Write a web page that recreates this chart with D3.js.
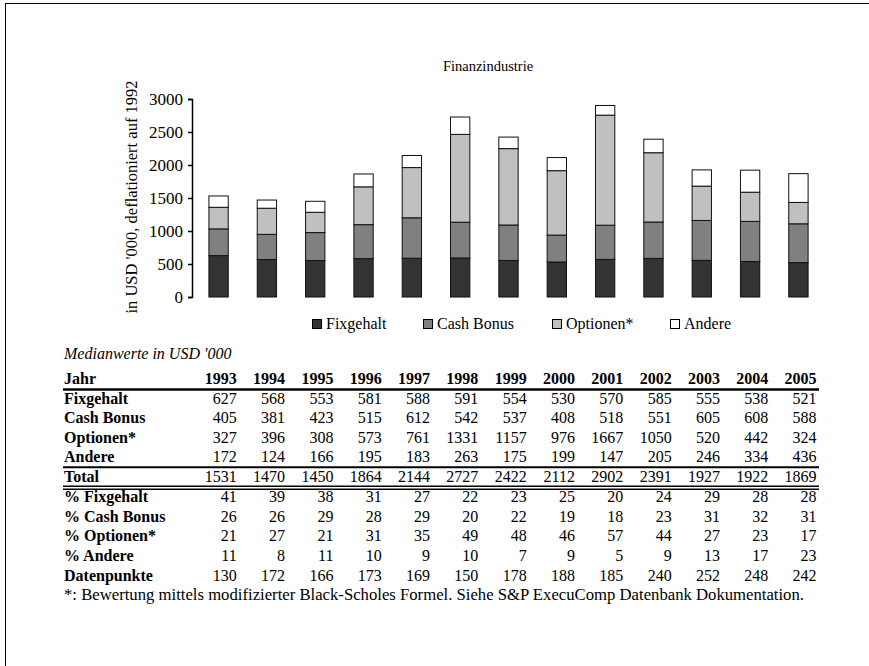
<!DOCTYPE html>
<html>
<head>
<meta charset="utf-8">
<script src="https://cdn.jsdelivr.net/npm/d3@7"></script>
<style>
  html, body { margin: 0; padding: 0; background: #fff; }
  svg { display: block; }
  text { font-family: "Liberation Serif", "Times New Roman", serif; fill: #000; }
</style>
</head>
<body>
<svg id="chart" width="869" height="666"></svg>
<script>
// Median compensation, financial industry, in USD '000 (deflated to 1992)
const years       = [1993, 1994, 1995, 1996, 1997, 1998, 1999, 2000, 2001, 2002, 2003, 2004, 2005];
const fixgehalt   = [627, 568, 553, 581, 588, 591, 554, 530, 570, 585, 555, 538, 521];
const cashBonus   = [405, 381, 423, 515, 612, 542, 537, 408, 518, 551, 605, 608, 588];
const optionen    = [327, 396, 308, 573, 761, 1331, 1157, 976, 1667, 1050, 520, 442, 324];
const andere      = [172, 124, 166, 195, 183, 263, 175, 199, 147, 205, 246, 334, 436];
const total       = [1531, 1470, 1450, 1864, 2144, 2727, 2422, 2112, 2902, 2391, 1927, 1922, 1869];
const pctFix      = [41, 39, 38, 31, 27, 22, 23, 25, 20, 24, 29, 28, 28];
const pctCash     = [26, 26, 29, 28, 29, 20, 22, 19, 18, 23, 31, 32, 31];
const pctOpt      = [21, 27, 21, 31, 35, 49, 48, 46, 57, 44, 27, 23, 17];
const pctAndere   = [11, 8, 11, 10, 9, 10, 7, 9, 5, 9, 13, 17, 23];
const datenpunkte = [130, 172, 166, 173, 169, 150, 178, 188, 185, 240, 252, 248, 242];

const seriesNames  = ["Fixgehalt", "Cash Bonus", "Optionen*", "Andere"];
const seriesValues = [fixgehalt, cashBonus, optionen, andere];
const seriesColors = ["#333333", "#808080", "#c0c0c0", "#ffffff"];
const yTicks = [0, 500, 1000, 1500, 2000, 2500, 3000];

const svg = d3.select("#chart");

// page frame
svg.append("rect")
  .attr("x", 5.5).attr("y", 3.5)
  .attr("width", 900).attr("height", 700)
  .attr("fill", "none").attr("stroke", "#000").attr("stroke-width", 1);

const x = d3.scaleBand()
  .domain(years)
  .range([192, 825])
  .paddingInner(0.6)
  .paddingOuter(0.35);

const y = d3.scaleLinear().domain([0, 3000]).range([297, 99]);

// title
svg.append("text")
  .attr("x", 488).attr("y", 71)
  .attr("text-anchor", "middle")
  .style("font-size", "14.5px")
  .text("Finanzindustrie");

// y axis
const yAxis = svg.append("g")
  .attr("transform", "translate(192,0)")
  .call(d3.axisLeft(y).tickValues(yTicks).tickSize(4).tickPadding(5).tickFormat(d3.format("d")));
yAxis.select(".domain").attr("stroke", "#000").attr("stroke-width", 1.5);
yAxis.selectAll(".tick line").attr("stroke", "#000").attr("stroke-width", 1.5);
yAxis.selectAll(".tick text")
  .style("font-family", "'Liberation Serif', 'Times New Roman', serif")
  .style("font-size", "17px")
  .attr("fill", "#000");

svg.append("text")
  .attr("transform", "translate(137,197) rotate(-90)")
  .attr("text-anchor", "middle")
  .style("font-size", "16.5px")
  .text("in USD '000, deflationiert auf 1992");

// stacked bars
const stackData = years.map((yr, i) => {
  const row = { year: yr };
  seriesNames.forEach((s, k) => { row[s] = seriesValues[k][i]; });
  return row;
});
const stacked = d3.stack().keys(seriesNames)(stackData);

svg.append("g").selectAll("g")
  .data(stacked)
  .join("g")
    .attr("fill", (d, k) => seriesColors[k])
  .selectAll("rect")
  .data(d => d)
  .join("rect")
    .attr("x", d => x(d.data.year))
    .attr("width", x.bandwidth())
    .attr("y", d => y(d[1]))
    .attr("height", d => y(d[0]) - y(d[1]))
    .attr("stroke", "#111")
    .attr("stroke-width", 1);

// legend
const legendX = [312, 423, 552, 670];
const legend = svg.append("g");
seriesNames.forEach((s, k) => {
  legend.append("rect")
    .attr("x", legendX[k] + 0.5).attr("y", 319.5)
    .attr("width", 9).attr("height", 9)
    .attr("fill", seriesColors[k])
    .attr("stroke", "#000").attr("stroke-width", 1);
  legend.append("text")
    .attr("x", legendX[k] + 14).attr("y", 329)
    .style("font-size", "16px")
    .text(s);
});

// data table
const tableLeft = 64, tableRight = 819;
const rowH = 19.55;
const headBase = 384;
const colRight = yr => x(yr) + x.bandwidth() + 8.5;

svg.append("text")
  .attr("x", tableLeft).attr("y", 359)
  .style("font-size", "16px").style("font-style", "italic")
  .text("Medianwerte in USD '000");

const rows = [
  { label: "Jahr", values: years, header: true },
  { label: "Fixgehalt", values: fixgehalt },
  { label: "Cash Bonus", values: cashBonus },
  { label: "Optionen*", values: optionen },
  { label: "Andere", values: andere },
  { label: "Total", values: total },
  { label: "% Fixgehalt", values: pctFix },
  { label: "% Cash Bonus", values: pctCash },
  { label: "% Optionen*", values: pctOpt },
  { label: "% Andere", values: pctAndere },
  { label: "Datenpunkte", values: datenpunkte }
];

const table = svg.append("g");
rows.forEach((r, i) => {
  const base = headBase + rowH * i + (i >= 6 ? 1 : 0);
  table.append("text")
    .attr("x", tableLeft).attr("y", base)
    .style("font-size", "16px").style("font-weight", "bold")
    .text(r.label);
  r.values.forEach((v, j) => {
    table.append("text")
      .attr("x", colRight(years[j])).attr("y", base)
      .attr("text-anchor", "end")
      .style("font-size", "16px")
      .style("font-weight", r.header ? "bold" : "normal")
      .text(v);
  });
});

function hline(yy, w) {
  table.append("line")
    .attr("x1", tableLeft - 1).attr("x2", tableRight)
    .attr("y1", yy).attr("y2", yy)
    .attr("stroke", "#000").attr("stroke-width", w);
}
hline(headBase + 5.5, 2.5);
hline(headBase + rowH * 4 + 5, 2);
hline(headBase + rowH * 5 + 4.5, 1.4);
hline(headBase + rowH * 5 + 7.5, 1.4);

svg.append("text")
  .attr("x", tableLeft).attr("y", headBase + rowH * 11 + 1)
  .style("font-size", "16.7px")
  .text("*: Bewertung mittels modifizierter Black-Scholes Formel. Siehe S&P ExecuComp Datenbank Dokumentation.");
</script>
</body>
</html>
